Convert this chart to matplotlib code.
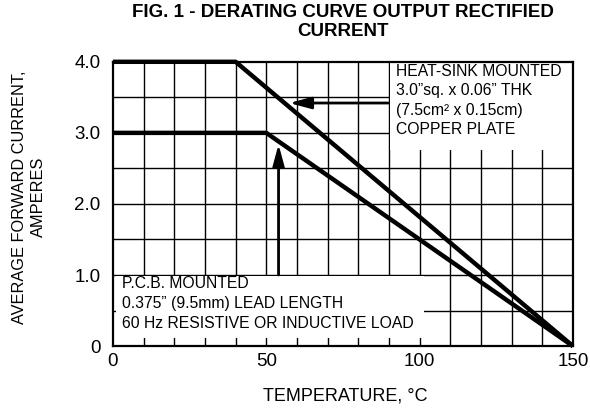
import matplotlib
matplotlib.use("Agg")
import matplotlib.pyplot as plt
from matplotlib.patches import Rectangle

plt.rcParams['font.family'] = ['Liberation Sans', 'DejaVu Sans']

# derating curves (temperature in C, current in A)
heatsink_t = [0, 40, 150]
heatsink_a = [4.0, 4.0, 0.0]
pcb_t = [0, 50, 150]
pcb_a = [3.0, 3.0, 0.0]

x_ticks = [0, 50, 100, 150]
y_ticks = [0, 1.0, 2.0, 3.0, 4.0]
y_tick_labels = ["0", "1.0", "2.0", "3.0", "4.0"]

heatsink_note = ["HEAT-SINK MOUNTED", "3.0\u201dsq. x 0.06\u201d THK",
                 "(7.5cm\u00b2 x 0.15cm)", "COPPER PLATE"]
pcb_note = ["P.C.B. MOUNTED", "0.375\u201d (9.5mm) LEAD LENGTH",
            "60 Hz RESISTIVE OR INDUCTIVE LOAD"]

fig = plt.figure(figsize=(5.9, 4.12), dpi=100)
ax = fig.add_axes([0.1915, 0.160, 0.7795, 0.690])

ax.set_xlim(0, 150)
ax.set_ylim(0, 4.0)

# grid every 10 C and 0.5 A
for gx in range(10, 150, 10):
    ax.axvline(gx, color='black', lw=1.0, zorder=1)
for gy in [0.5, 1.0, 1.5, 2.0, 2.5, 3.0, 3.5]:
    ax.axhline(gy, color='black', lw=1.0, zorder=1)

# white boxes behind notes
ax.add_patch(Rectangle((90.4, 2.76), 59.2, 1.24, facecolor='white',
                       edgecolor='none', zorder=2))
ax.add_patch(Rectangle((1.0, 0.12), 100.6, 0.87, facecolor='white',
                       edgecolor='none', zorder=2))

ax.plot(heatsink_t, heatsink_a, color='black', lw=3.2, zorder=4,
        solid_capstyle='butt', clip_on=False)
ax.plot(pcb_t, pcb_a, color='black', lw=3.2, zorder=4,
        solid_capstyle='butt', clip_on=False)

# arrows
ax.annotate("", xy=(57.5, 3.42), xytext=(89.8, 3.42),
            arrowprops=dict(arrowstyle='-|>,head_length=1.3,head_width=0.35',
                            color='black', lw=2.0, shrinkA=0, shrinkB=0),
            zorder=5)
ax.annotate("", xy=(54.0, 2.84), xytext=(54.0, 1.0),
            arrowprops=dict(arrowstyle='-|>,head_length=1.3,head_width=0.35',
                            color='black', lw=2.0, shrinkA=0, shrinkB=0),
            zorder=5)

ax.text(92.3, 3.97, "\n".join(heatsink_note), fontsize=11.3, va='top',
        ha='left', linespacing=1.37, zorder=6)
ax.text(3.0, 0.985, "\n".join(pcb_note), fontsize=11.3, va='top',
        ha='left', linespacing=1.4, zorder=6)

ax.set_xticks(x_ticks)
ax.set_yticks(y_ticks)
ax.set_yticklabels(y_tick_labels)
ax.tick_params(length=0, labelsize=13.5)
ax.tick_params(axis='y', pad=9)
ax.tick_params(axis='x', pad=5)
for s in ax.spines.values():
    s.set_linewidth(1.6)
    s.set_zorder(3)

fig.text(345 / 590, 1 - 396 / 412, "TEMPERATURE, \u00b0C", fontsize=13,
         ha='center', va='center')
fig.text(29 / 590, 1 - 197 / 412, "AVERAGE FORWARD CURRENT,\nAMPERES",
         fontsize=11.8, rotation=90, ha='center', va='center',
         linespacing=1.25, multialignment='center')
fig.text(343 / 590, 1 - 4 / 412,
         "FIG. 1 - DERATING CURVE OUTPUT RECTIFIED\nCURRENT",
         fontsize=13.5, fontweight='bold', ha='center', va='top',
         linespacing=1.12)

fig.savefig("out.png", dpi=100)
